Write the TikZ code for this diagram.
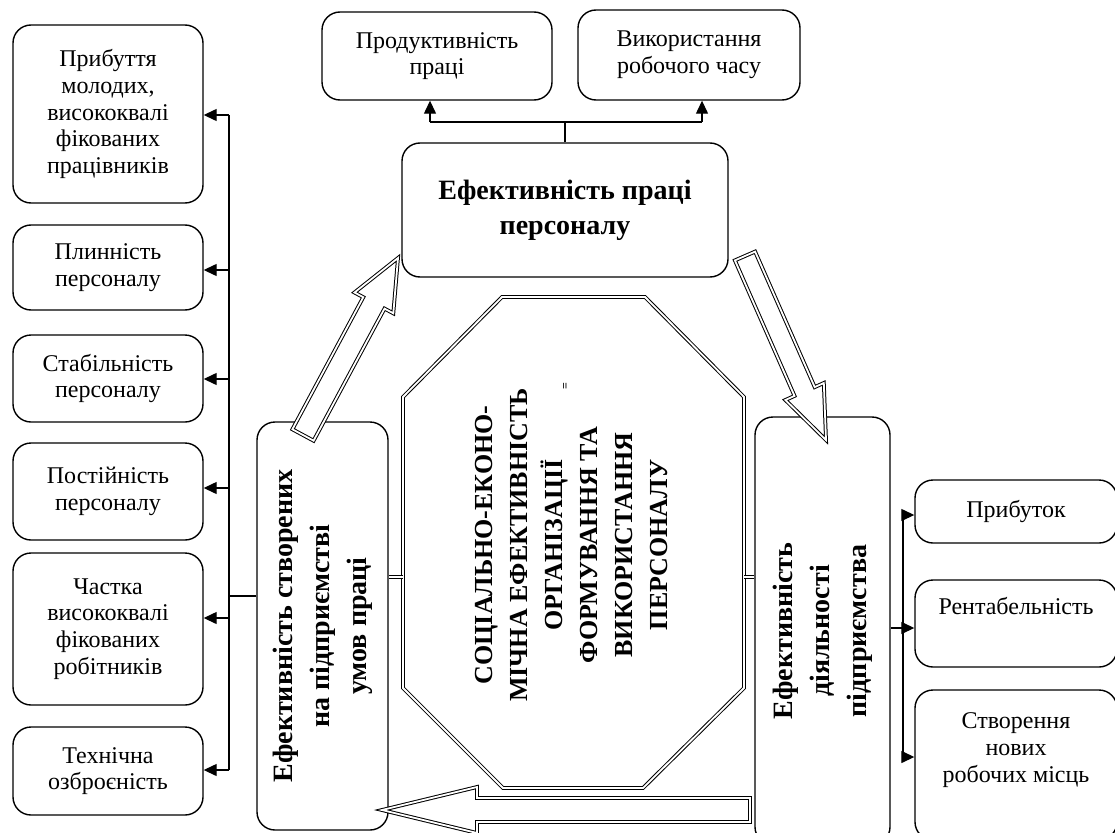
\documentclass[tikz,border=0pt]{standalone}
\usepackage{fontspec}
\setmainfont{Liberation Serif}
\usetikzlibrary{arrows.meta,calc}
\begin{document}
\begin{tikzpicture}[x=1pt,y=-1pt,
 box/.style={draw, line width=1.4pt, rounded corners=18pt, align=center, inner sep=0pt, font=\fontsize{24}{26.7}\selectfont},
 vbox/.style={box, font=\bfseries\fontsize{28}{37}\selectfont},
 conn/.style={line width=1.3pt},
 arr/.style={conn, -{Triangle[length=13pt,width=12pt]}},
 dbl/.style={draw, double, double distance=1.8pt, line width=1pt},
 hollow/.style={dbl, fill=white, line join=miter},
]
\useasboundingbox (0,0) rectangle (1115,832);

% left column boxes
\node[box, minimum width=190pt, minimum height=178pt] (b1) at (108,114) {Прибуття\\молодих,\\висококвалі\\фікованих\\працівників};
\node[box, minimum width=190pt, minimum height=85pt] (b2) at (108,267.5) {Плинність\\персоналу};
\node[box, minimum width=190pt, minimum height=87pt] (b3) at (108,378.5) {Стабільність\\персоналу};
\node[box, minimum width=190pt, minimum height=97pt] (b4) at (108,491.5) {Постійність\\персоналу};
\node[box, minimum width=190pt, minimum height=152pt] (b5) at (108,629) {Частка\\висококвалі\\фікованих\\робітників};
\node[box, minimum width=190pt, minimum height=88pt] (b6) at (108,771) {Технічна\\озброєність};

% top boxes
\node[box, minimum width=230pt, minimum height=88pt] (p1) at (437,56) {Продуктивність\\праці};
\node[box, minimum width=222pt, minimum height=90pt] (p2) at (689,55) {Використання\\робочого часу};

% main box
\node[box, minimum width=326pt, minimum height=134pt, font=\bfseries\fontsize{28}{35}\selectfont] (mb) at (565,210) {Ефективність праці\\персоналу};

% vertical boxes
\node[vbox, minimum width=131pt, minimum height=408pt] (lv) at (322.5,626) {\rotatebox{90}{\begin{tabular}{@{}c@{}}Ефективність створених\\на підприємстві\\умов праці\end{tabular}}};
\node[vbox, minimum width=135pt, minimum height=428pt] (rv) at (822.5,631) {\rotatebox{90}{\begin{tabular}{@{}c@{}}Ефективність\\діяльності\\підприємства\end{tabular}}};

% right boxes
\node[box, minimum width=202pt, minimum height=63pt] (r1) at (1016,511.5) {Прибуток};
\node[box, minimum width=202pt, minimum height=87pt] (r2) at (1016,623.5) {Рентабельність\\\strut};
\node[box, minimum width=202pt, minimum height=150pt] (r3) at (1016,765) {Створення\\нових\\робочих місць\\\strut};

% octagon
\coordinate (o1) at (502,297);
\coordinate (o2) at (645,297);
\coordinate (o3) at (744,397);
\coordinate (o4) at (744,688);
\coordinate (o5) at (643,788);
\coordinate (o6) at (503,788);
\coordinate (o7) at (403,688);
\coordinate (o8) at (403,397);
\draw[dbl, line join=miter] (o1) -- (o2) -- (o3) -- (o4) -- (o5) -- (o6) -- (o7) -- (o8) -- cycle;
\node[inner sep=0pt, font=\bfseries\fontsize{26}{35}\selectfont] (oct) at (573,545) {\rotatebox{90}{\begin{tabular}{@{}c@{}}СОЦІАЛЬНО-ЕКОНО-\\МІЧНА ЕФЕКТИВНІСТЬ\\ОРГАНІЗАЦІЇ\\ФОРМУВАННЯ ТА\\ВИКОРИСТАННЯ\\ПЕРСОНАЛУ\end{tabular}}};
\node[inner sep=0pt, font=\bfseries\fontsize{12}{12}\selectfont] (eq) at (566,386) {\rotatebox{90}{=}};

% double stubs octagon - vertical boxes
\coordinate (oL) at (403,577);
\coordinate (oR) at (744,577);
\draw[dbl] (oL) -- (lv.east |- oL);
\draw[dbl] (oR) -- (rv.west |- oR);

% top connectors
\coordinate (jm) at (565,122);
\coordinate (ja) at (430,122);
\coordinate (jb) at (702,122);
\draw[conn] (mb.north) -- (jm);
\draw[conn] (ja) -- (jb);
\draw[arr] (ja) -- (ja |- p1.south);
\draw[arr] (jb) -- (jb |- p2.south);

% left trunk
\coordinate (t1) at (229,115);
\coordinate (t2) at (229,270);
\coordinate (t3) at (229,379);
\coordinate (t4) at (229,488);
\coordinate (t5) at (229,618);
\coordinate (t6) at (229,770);
\coordinate (lj) at (229,596);
\draw[conn] (t1) -- (t6);
\draw[conn] (lv.west |- lj) -- (lj);
\draw[arr] (t1) -- (t1 -| b1.east);
\draw[arr] (t2) -- (t2 -| b2.east);
\draw[arr] (t3) -- (t3 -| b3.east);
\draw[arr] (t4) -- (t4 -| b4.east);
\draw[arr] (t5) -- (t5 -| b5.east);
\draw[arr] (t6) -- (t6 -| b6.east);

% right trunk
\coordinate (s1) at (903,515);
\coordinate (s2) at (903,628);
\coordinate (s3) at (903,757);
\draw[conn] (s1) -- (s3);
\draw[conn] (rv.east |- s2) -- (s2);
\draw[arr] (s1) -- (s1 -| r1.west);
\draw[arr] (s2) -- (s2 -| r2.west);
\draw[arr] (s3) -- (s3 -| r3.west);

% hollow arrows
\draw[hollow] (292.4,429.3) -- (363.3,297.2) -- (354.5,292.5) -- (398,258) -- (393.3,313.3) -- (384.5,308.6) -- (313.6,440.7) -- cycle;
\draw[hollow] (734.9,260.4) -- (794.5,395.9) -- (785.4,400.0) -- (826,440) -- (823.8,383.0) -- (814.7,387.1) -- (755.1,251.6) -- cycle;
\draw[hollow] (750,798) -- (477,798) -- (477,787) -- (382,810) -- (477,833) -- (477,822) -- (750,822) -- cycle;
\end{tikzpicture}
\end{document}
